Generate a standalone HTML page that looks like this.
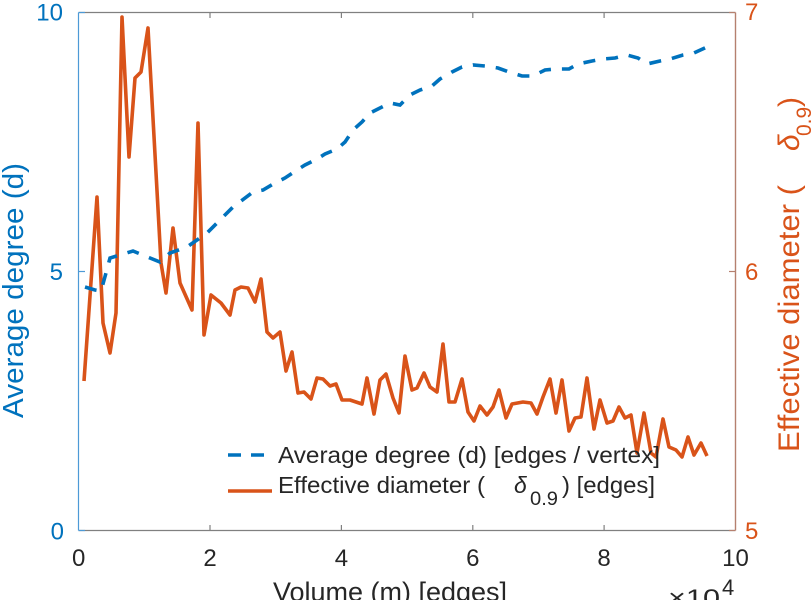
<!DOCTYPE html>
<html>
<head>
<meta charset="utf-8">
<style>
  html, body { margin: 0; padding: 0; background: #ffffff; }
  body { width: 812px; height: 600px; overflow: hidden; }
  svg { display: block; }
  text { font-family: "Liberation Sans", "DejaVu Sans", sans-serif; }
</style>
</head>
<body>
<svg width="812" height="600" viewBox="0 0 812 600" xmlns="http://www.w3.org/2000/svg">
  <rect x="0" y="0" width="812" height="600" fill="#ffffff"/>

  <!-- axes box -->
  <line x1="78.5" y1="12.5" x2="735.5" y2="12.5" stroke="#808080" stroke-width="1.2"/>
  <line x1="78.5" y1="530.5" x2="735.5" y2="530.5" stroke="#808080" stroke-width="1.2"/>
  <line x1="78.5" y1="12.5" x2="78.5" y2="530.5" stroke="#4d9ad6" stroke-width="1.2"/>
  <line x1="735.5" y1="12.5" x2="735.5" y2="530.5" stroke="#b5806f" stroke-width="1.4"/>

  <!-- x ticks -->
  <g stroke="#808080" stroke-width="1.2">
    <line x1="210" y1="12.5" x2="210" y2="18"/>
    <line x1="341.4" y1="12.5" x2="341.4" y2="18"/>
    <line x1="472.8" y1="12.5" x2="472.8" y2="18"/>
    <line x1="604.1" y1="12.5" x2="604.1" y2="18"/>
    <line x1="210" y1="530.5" x2="210" y2="525"/>
    <line x1="341.4" y1="530.5" x2="341.4" y2="525"/>
    <line x1="472.8" y1="530.5" x2="472.8" y2="525"/>
    <line x1="604.1" y1="530.5" x2="604.1" y2="525"/>
  </g>
  <!-- left ticks -->
  <g stroke="#4d9ad6" stroke-width="1.2">
    <line x1="78.5" y1="12.5" x2="85" y2="12.5"/>
    <line x1="78.5" y1="271.5" x2="85" y2="271.5"/>
    <line x1="78.5" y1="530.5" x2="85" y2="530.5"/>
  </g>
  <!-- right ticks -->
  <g stroke="#b5806f" stroke-width="1.2">
    <line x1="729" y1="12.5" x2="735.5" y2="12.5"/>
    <line x1="729" y1="271.5" x2="735.5" y2="271.5"/>
    <line x1="729" y1="530.5" x2="735.5" y2="530.5"/>
  </g>

  <!-- orange series -->
  <polyline fill="none" stroke="#D95319" stroke-width="3.6" stroke-linejoin="round"
    points="84,381 97,197 103,323 110,353 116,313 122,17 129,157 135,78 141,72 148,28 161,263 166,293 173,228 180,283 192,310 198,123 204,335 211,295 221,303 230,315 235,290 241,287 248,288 255,302 261,279 267,332 273,338 280,332 286,371 292,352 298,393 304,392 311,399 317,378 323,379 330,386 336,384 342,400 350,400 356,402 362,404 367,378 374,414 380,380 386,374 393,398 399,413 405,356 412,390 417,388 424,373 430,387 437,392 443,344 449,402 455,402 462,379 468,412 474,421 480,406 487,415 493,407 499,390 506,418 512,404 523,402 531,403 537,414 543,397 550,379 556,413 562,380 569,431 575,418 581,417 587,378 594,429 600,400 607,423 613,421 619,407 625,418 631,415 637,453 644,413 651,453 656,457 663,419 669,447 676,450 682,457 688,437 694,455 701,443 707,456"/>

  <!-- blue dashed series -->
  <polyline fill="none" stroke="#0072BD" stroke-width="3.6" stroke-dasharray="12 11"
    points="85,287 95,290 101,291 106,273 110,258 120,255 133,251 150,258 160,262 170,253 187,247 207,233 233,207 253,192 263,190 275,183 285,178 297,170 305,165 317,159 325,154 337,149 345,142 353,130 362,122 370,113 378,109 390,103 400,105 410,95 420,90 432,86 440,79 452,72 462,67 473,65 485,66 498,68 509,72 522,76 533,76 545,70 555,69 569,69 578,64 592,61 603,59 615,58 627,55 638,58 647,64 660,61 670,59 683,55 694,53 707,47"/>

  <!-- left tick labels -->
  <g fill="#0072BD" font-size="24" text-anchor="end">
    <text x="63" y="20.5">10</text>
    <text x="63" y="280">5</text>
    <text x="64" y="539.5">0</text>
  </g>
  <!-- right tick labels -->
  <g fill="#D95319" font-size="24">
    <text x="745" y="20">7</text>
    <text x="745" y="280">6</text>
    <text x="745" y="539">5</text>
  </g>
  <!-- x tick labels -->
  <g fill="#262626" font-size="24" text-anchor="middle">
    <text x="78.7" y="566">0</text>
    <text x="210" y="566">2</text>
    <text x="341.4" y="566">4</text>
    <text x="472.8" y="566">6</text>
    <text x="604.1" y="566">8</text>
    <text x="735.5" y="566">10</text>
  </g>
  <!-- x exponent -->
  <text x="668" y="606" fill="#262626" font-size="24" textLength="52" lengthAdjust="spacingAndGlyphs">×10</text>
  <text x="722" y="595" fill="#262626" font-size="22">4</text>

  <!-- x label -->
  <text x="273" y="601" fill="#262626" font-size="27" textLength="234" lengthAdjust="spacingAndGlyphs">Volume (m) [edges]</text>

  <!-- left y label -->
  <text transform="translate(23,418) rotate(-90)" x="0" y="0" fill="#0072BD" font-size="29" textLength="255" lengthAdjust="spacingAndGlyphs">Average degree (d)</text>

  <!-- right y label -->
  <g transform="translate(799,452) rotate(-90)" fill="#D95319">
    <text x="0" y="0" font-size="30" textLength="267" lengthAdjust="spacingAndGlyphs">Effective diameter (</text>
    <text x="301" y="0" font-size="30" font-style="italic">δ</text>
    <text x="316" y="12" font-size="21">0.9</text>
    <text x="345" y="0" font-size="30">)</text>
  </g>

  <!-- legend -->
  <line x1="228" y1="455" x2="272" y2="455" stroke="#0072BD" stroke-width="3.6" stroke-dasharray="13 10"/>
  <line x1="228" y1="491" x2="272" y2="491" stroke="#D95319" stroke-width="3.6"/>
  <g fill="#262626" font-size="23">
    <text x="278" y="463" textLength="382" lengthAdjust="spacingAndGlyphs">Average degree (d) [edges / vertex]</text>
    <text x="278" y="493" textLength="207" lengthAdjust="spacingAndGlyphs">Effective diameter (</text>
    <text x="514" y="493" font-style="italic">δ</text>
    <text x="530" y="505" font-size="19" textLength="28" lengthAdjust="spacingAndGlyphs">0.9</text>
    <text x="562" y="493" textLength="93" lengthAdjust="spacingAndGlyphs">) [edges]</text>
  </g>
</svg>
</body>
</html>
